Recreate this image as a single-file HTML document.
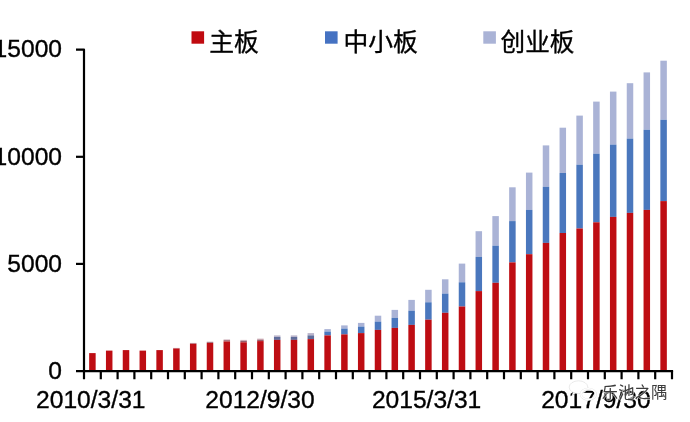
<!DOCTYPE html>
<html><head><meta charset="utf-8"><title>chart</title>
<style>
html,body{margin:0;padding:0;background:#fff;}
body{width:690px;height:422px;overflow:hidden;font-family:"Liberation Sans",sans-serif;}
svg{display:block;will-change:transform;}
text{font-family:"Liberation Sans",sans-serif;fill:#000;stroke:#000;stroke-width:0.35px;}
</style></head><body>
<svg width="690" height="422" viewBox="0 0 690 422">
<rect width="690" height="422" fill="#fff"/>
<rect x="89.15" y="353.10" width="6.50" height="17.90" fill="#be0d13"/>
<rect x="105.95" y="350.60" width="6.50" height="20.40" fill="#be0d13"/>
<rect x="122.75" y="350.10" width="6.50" height="20.90" fill="#be0d13"/>
<rect x="139.55" y="350.60" width="6.50" height="20.40" fill="#be0d13"/>
<rect x="156.35" y="350.10" width="6.50" height="20.90" fill="#be0d13"/>
<rect x="173.15" y="347.90" width="6.50" height="0.30" fill="#d3b4bd"/><rect x="173.15" y="348.20" width="6.50" height="0.30" fill="#9a5d6c"/><rect x="173.15" y="348.50" width="6.50" height="22.50" fill="#be0d13"/>
<rect x="189.95" y="342.90" width="6.50" height="0.40" fill="#d3b4bd"/><rect x="189.95" y="343.30" width="6.50" height="0.50" fill="#9a5d6c"/><rect x="189.95" y="343.80" width="6.50" height="27.20" fill="#be0d13"/>
<rect x="206.75" y="341.60" width="6.50" height="0.60" fill="#d3b4bd"/><rect x="206.75" y="342.20" width="6.50" height="0.80" fill="#9a5d6c"/><rect x="206.75" y="343.00" width="6.50" height="28.00" fill="#be0d13"/>
<rect x="223.55" y="339.40" width="6.50" height="0.80" fill="#d3b4bd"/><rect x="223.55" y="340.20" width="6.50" height="1.30" fill="#9a5d6c"/><rect x="223.55" y="341.50" width="6.50" height="29.50" fill="#be0d13"/>
<rect x="240.35" y="339.90" width="6.50" height="0.90" fill="#d3b4bd"/><rect x="240.35" y="340.80" width="6.50" height="1.50" fill="#9a5d6c"/><rect x="240.35" y="342.30" width="6.50" height="28.70" fill="#be0d13"/>
<rect x="257.15" y="338.60" width="6.50" height="1.00" fill="#d3b4bd"/><rect x="257.15" y="339.60" width="6.50" height="1.50" fill="#9a5d6c"/><rect x="257.15" y="341.10" width="6.50" height="29.90" fill="#be0d13"/>
<rect x="273.95" y="335.40" width="6.50" height="1.60" fill="#b9b4cb"/><rect x="273.95" y="337.00" width="6.50" height="2.90" fill="#5f6c9a"/><rect x="273.95" y="339.90" width="6.50" height="31.10" fill="#be0d13"/>
<rect x="290.75" y="335.40" width="6.50" height="1.60" fill="#b9b4cb"/><rect x="290.75" y="337.00" width="6.50" height="2.90" fill="#5f6c9a"/><rect x="290.75" y="339.90" width="6.50" height="31.10" fill="#be0d13"/>
<rect x="307.55" y="333.10" width="6.50" height="2.30" fill="#b9b4cb"/><rect x="307.55" y="335.40" width="6.50" height="3.70" fill="#5f6c9a"/><rect x="307.55" y="339.10" width="6.50" height="31.90" fill="#be0d13"/>
<rect x="324.35" y="329.10" width="6.50" height="2.50" fill="#aab3d6"/><rect x="324.35" y="331.60" width="6.50" height="3.80" fill="#4a77bd"/><rect x="324.35" y="335.40" width="6.50" height="35.60" fill="#be0d13"/>
<rect x="341.15" y="325.40" width="6.50" height="3.20" fill="#aab3d6"/><rect x="341.15" y="328.60" width="6.50" height="5.80" fill="#4a77bd"/><rect x="341.15" y="334.40" width="6.50" height="36.60" fill="#be0d13"/>
<rect x="357.95" y="322.90" width="6.50" height="3.70" fill="#aab3d6"/><rect x="357.95" y="326.60" width="6.50" height="6.50" fill="#4a77bd"/><rect x="357.95" y="333.10" width="6.50" height="37.90" fill="#be0d13"/>
<rect x="374.75" y="315.70" width="6.50" height="5.90" fill="#aab3d6"/><rect x="374.75" y="321.60" width="6.50" height="8.30" fill="#4a77bd"/><rect x="374.75" y="329.90" width="6.50" height="41.10" fill="#be0d13"/>
<rect x="391.55" y="309.90" width="6.50" height="8.00" fill="#aab3d6"/><rect x="391.55" y="317.90" width="6.50" height="10.00" fill="#4a77bd"/><rect x="391.55" y="327.90" width="6.50" height="43.10" fill="#be0d13"/>
<rect x="408.35" y="299.90" width="6.50" height="10.80" fill="#aab3d6"/><rect x="408.35" y="310.70" width="6.50" height="14.20" fill="#4a77bd"/><rect x="408.35" y="324.90" width="6.50" height="46.10" fill="#be0d13"/>
<rect x="425.15" y="289.80" width="6.50" height="12.50" fill="#aab3d6"/><rect x="425.15" y="302.30" width="6.50" height="17.40" fill="#4a77bd"/><rect x="425.15" y="319.70" width="6.50" height="51.30" fill="#be0d13"/>
<rect x="441.95" y="279.30" width="6.50" height="14.30" fill="#aab3d6"/><rect x="441.95" y="293.60" width="6.50" height="19.20" fill="#4a77bd"/><rect x="441.95" y="312.80" width="6.50" height="58.20" fill="#be0d13"/>
<rect x="458.75" y="263.60" width="6.50" height="18.70" fill="#aab3d6"/><rect x="458.75" y="282.30" width="6.50" height="24.20" fill="#4a77bd"/><rect x="458.75" y="306.50" width="6.50" height="64.50" fill="#be0d13"/>
<rect x="475.55" y="231.20" width="6.50" height="25.70" fill="#aab3d6"/><rect x="475.55" y="256.90" width="6.50" height="34.20" fill="#4a77bd"/><rect x="475.55" y="291.10" width="6.50" height="79.90" fill="#be0d13"/>
<rect x="492.35" y="216.10" width="6.50" height="29.60" fill="#aab3d6"/><rect x="492.35" y="245.70" width="6.50" height="37.10" fill="#4a77bd"/><rect x="492.35" y="282.80" width="6.50" height="88.20" fill="#be0d13"/>
<rect x="509.15" y="187.30" width="6.50" height="33.80" fill="#aab3d6"/><rect x="509.15" y="221.10" width="6.50" height="41.30" fill="#4a77bd"/><rect x="509.15" y="262.40" width="6.50" height="108.60" fill="#be0d13"/>
<rect x="525.95" y="172.60" width="6.50" height="37.30" fill="#aab3d6"/><rect x="525.95" y="209.90" width="6.50" height="44.30" fill="#4a77bd"/><rect x="525.95" y="254.20" width="6.50" height="116.80" fill="#be0d13"/>
<rect x="542.75" y="145.40" width="6.50" height="41.40" fill="#aab3d6"/><rect x="542.75" y="186.80" width="6.50" height="56.10" fill="#4a77bd"/><rect x="542.75" y="242.90" width="6.50" height="128.10" fill="#be0d13"/>
<rect x="559.55" y="127.70" width="6.50" height="45.30" fill="#aab3d6"/><rect x="559.55" y="173.00" width="6.50" height="60.00" fill="#4a77bd"/><rect x="559.55" y="233.00" width="6.50" height="138.00" fill="#be0d13"/>
<rect x="576.35" y="115.60" width="6.50" height="49.10" fill="#aab3d6"/><rect x="576.35" y="164.70" width="6.50" height="63.80" fill="#4a77bd"/><rect x="576.35" y="228.50" width="6.50" height="142.50" fill="#be0d13"/>
<rect x="593.15" y="101.60" width="6.50" height="52.10" fill="#aab3d6"/><rect x="593.15" y="153.70" width="6.50" height="68.60" fill="#4a77bd"/><rect x="593.15" y="222.30" width="6.50" height="148.70" fill="#be0d13"/>
<rect x="609.95" y="91.60" width="6.50" height="53.00" fill="#aab3d6"/><rect x="609.95" y="144.60" width="6.50" height="72.30" fill="#4a77bd"/><rect x="609.95" y="216.90" width="6.50" height="154.10" fill="#be0d13"/>
<rect x="626.75" y="83.20" width="6.50" height="55.40" fill="#aab3d6"/><rect x="626.75" y="138.60" width="6.50" height="74.30" fill="#4a77bd"/><rect x="626.75" y="212.90" width="6.50" height="158.10" fill="#be0d13"/>
<rect x="643.55" y="72.40" width="6.50" height="57.40" fill="#aab3d6"/><rect x="643.55" y="129.80" width="6.50" height="80.10" fill="#4a77bd"/><rect x="643.55" y="209.90" width="6.50" height="161.10" fill="#be0d13"/>
<rect x="660.35" y="60.70" width="6.50" height="59.10" fill="#aab3d6"/><rect x="660.35" y="119.80" width="6.50" height="81.30" fill="#4a77bd"/><rect x="660.35" y="201.10" width="6.50" height="169.90" fill="#be0d13"/>
<g stroke="#000" stroke-width="2.2" fill="none" stroke-linejoin="round">
<path d="M76 49.7H84.0V372.1"/>
<path d="M76 371.2H673.1"/>
<path d="M76 156.8H84.0"/><path d="M76 263.9H84.0"/>
<path d="M84.00 371.0V379.3M100.80 371.0V379.3M117.60 371.0V379.3M134.40 371.0V379.3M151.20 371.0V379.3M168.00 371.0V379.3M184.80 371.0V379.3M201.60 371.0V379.3M218.40 371.0V379.3M235.20 371.0V379.3M252.00 371.0V379.3M268.80 371.0V379.3M285.60 371.0V379.3M302.40 371.0V379.3M319.20 371.0V379.3M336.00 371.0V379.3M352.80 371.0V379.3M369.60 371.0V379.3M386.40 371.0V379.3M403.20 371.0V379.3M420.00 371.0V379.3M436.80 371.0V379.3M453.60 371.0V379.3M470.40 371.0V379.3M487.20 371.0V379.3M504.00 371.0V379.3M520.80 371.0V379.3M537.60 371.0V379.3M554.40 371.0V379.3M571.20 371.0V379.3M588.00 371.0V379.3M604.80 371.0V379.3M621.60 371.0V379.3M638.40 371.0V379.3M655.20 371.0V379.3M672.00 371.0V379.3"/>
</g>
<text x="62" y="56.9" font-size="24.6" text-anchor="end">15000</text>
<text x="62" y="164.9" font-size="24.6" text-anchor="end">10000</text>
<text x="62" y="272.0" font-size="24.6" text-anchor="end">5000</text>
<text x="62" y="379.2" font-size="24.6" text-anchor="end">0</text>
<text x="90.8" y="408.2" font-size="24.6" text-anchor="middle">2010/3/31</text>
<text x="260.0" y="408.2" font-size="24.6" text-anchor="middle">2012/9/30</text>
<text x="426.6" y="408.2" font-size="24.6" text-anchor="middle">2015/3/31</text>
<text x="595.9" y="408.2" font-size="24.6" text-anchor="middle">2017/9/30</text>
<rect x="191.5" y="31.3" width="12.6" height="12.4" fill="#c00a10"/>
<text x="209.2" y="51.4" font-size="24.8" style="font-family:'Liberation Sans','Noto Sans CJK SC',sans-serif;">主板</text>
<rect x="325" y="31.3" width="12.6" height="12.4" fill="#4572c2"/>
<text x="343.4" y="51.4" font-size="24.8" style="font-family:'Liberation Sans','Noto Sans CJK SC',sans-serif;">中小板</text>
<rect x="483.3" y="31.3" width="12.6" height="12.4" fill="#aab3d6"/>
<text x="500.6" y="51.4" font-size="24.6" style="font-family:'Liberation Sans','Noto Sans CJK SC',sans-serif;">创业板</text>
<ellipse cx="578.5" cy="387.2" rx="9.3" ry="6.4" fill="#fff" stroke="#dcdcdc" stroke-width="0.6"/><path d="M573 392.2l-1.2 3 3.6-2z" fill="#fff"/><ellipse cx="588.3" cy="394.2" rx="7.4" ry="5.4" fill="none" stroke="#e2e2e2" stroke-width="2.2"/><ellipse cx="588.3" cy="394.2" rx="7.4" ry="5.4" fill="none" stroke="#fff" stroke-width="1.5"/>
<text x="601.8" y="397.6" font-size="16.4" style="font-family:'Liberation Sans','Noto Sans CJK SC',sans-serif;fill:#3c3c3c;stroke:#fff;stroke-opacity:0.7;stroke-width:1.2px;paint-order:stroke;">乐池之隅</text>
</svg>
</body></html>
